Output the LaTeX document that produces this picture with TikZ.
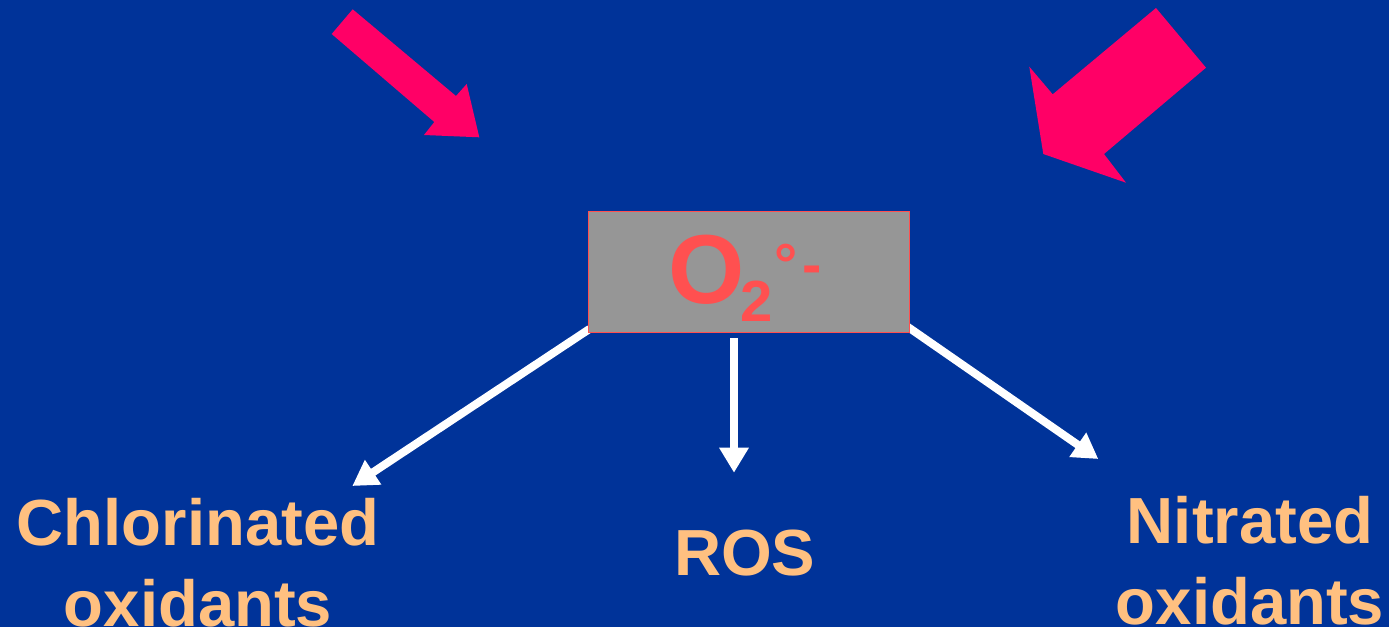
\documentclass[tikz,border=0pt]{standalone}
\usepackage{fontspec}
\setmainfont{Liberation Sans}
\usetikzlibrary{arrows.meta}
\definecolor{bg}{HTML}{003399}
\definecolor{pinkc}{HTML}{FF0066}
\definecolor{peach}{HTML}{FFC080}
\definecolor{boxgray}{HTML}{969696}
\definecolor{boxred}{HTML}{FF5050}
\pgfdeclarelayer{front}
\pgfsetlayers{main,front}
\tikzset{
  pinkarrow/.style={fill=pinkc, draw=none},
  warrow/.style={draw=white, line width=4pt, -{Triangle[width=14pt,length=12.5pt]}},
  label/.style={text=peach, font=\bfseries\fontsize{32.6}{40.5}\selectfont, inner sep=0pt, align=center},
  formula/.style={text=boxred, inner sep=0pt, font=\bfseries},
  obox/.style={fill=boxgray, draw=boxred, line width=0.6pt, inner sep=0pt, minimum width=160.5pt, minimum height=60.3pt}
}
\begin{document}
\begin{tikzpicture}[x=0.5pt,y=-0.5pt]
\useasboundingbox[fill=bg] (0,0) rectangle (1389,627);
\begin{scope}
\clip (0,0) rectangle (1389,627);
% pink arrows
\fill[pinkarrow] (352.7,9.3) -- (456,96) -- (466.7,84) -- (479.3,137.3) -- (424,135) -- (434.3,122) -- (331.7,34) -- cycle;
\fill[pinkarrow] (1156,8) -- (1206,67.7) -- (1104,154) -- (1126,182.7) -- (1043.3,154) -- (1029.3,66.7) -- (1052.7,94.3) -- cycle;
% box
\begin{pgfonlayer}{front}
\node[obox] (box) at (748.7,272) {};
\node[formula, anchor=base west, font=\bfseries\fontsize{49}{49}\selectfont] (o) at (668.5,303.3) {O};
\node[formula, anchor=base west, font=\bfseries\fontsize{29}{29}\selectfont] (sub) at (740.5,321.7) {2};
\node[formula, anchor=base west, font=\bfseries\fontsize{29}{29}\selectfont] (sup) at (774,284.5) {°\kern2.5pt-};
\end{pgfonlayer}
% tips
\coordinate (tipL) at (352.3,486);
\coordinate (tipM) at (734,472.7);
\coordinate (tipR) at (1098.3,459);
\draw[warrow] ([xshift=1pt,yshift=2pt]box.south west) -- (tipL);
\draw[warrow] ([yshift=-2.5pt]box.south -| tipM) -- (tipM);
\draw[warrow] ([xshift=-1pt,yshift=3pt]box.south east) -- (tipR);
% labels
\node[label, anchor=base] (chl) at (198,626) {Chlorinated\\oxidants};
\node[label, anchor=base] (ros) at (744.7,575) {ROS};
\node[label, anchor=base] (nit) at (1250,624.3) {Nitrated\\oxidants};
\end{scope}
\end{tikzpicture}
\end{document}
